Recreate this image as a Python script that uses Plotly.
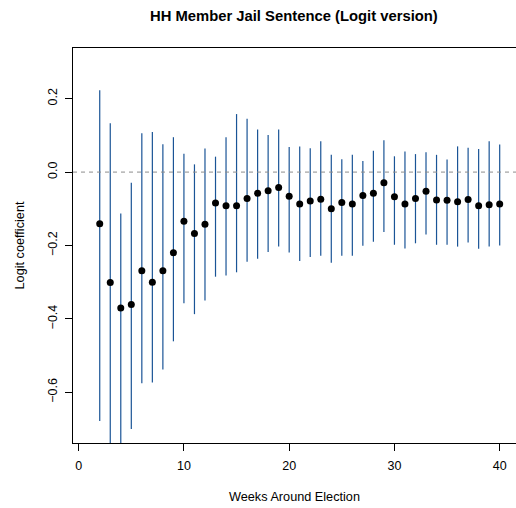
import plotly.graph_objects as go

# Weekly logit coefficients with confidence bounds
weeks = list(range(2, 41))
coef = [-0.141, -0.301, -0.370, -0.361, -0.269, -0.300, -0.269, -0.220, -0.134,
        -0.167, -0.142, -0.084, -0.092, -0.092, -0.072, -0.058, -0.051, -0.042,
        -0.066, -0.087, -0.079, -0.074, -0.100, -0.083, -0.087, -0.064, -0.058,
        -0.029, -0.067, -0.087, -0.072, -0.052, -0.076, -0.077, -0.081, -0.075,
        -0.092, -0.089, -0.087]
upper = [0.223, 0.133, -0.113, -0.029, 0.106, 0.109, 0.076, 0.095, 0.050,
         0.021, 0.064, 0.042, 0.095, 0.158, 0.145, 0.116, 0.101, 0.116,
         0.068, 0.070, 0.065, 0.084, 0.047, 0.035, 0.047, 0.030, 0.058,
         0.087, 0.043, 0.056, 0.049, 0.054, 0.047, 0.034, 0.070, 0.066,
         0.063, 0.084, 0.075]
lower = [-0.678, -0.800, -0.800, -0.700, -0.575, -0.573, -0.538, -0.461, -0.357,
         -0.387, -0.350, -0.285, -0.282, -0.273, -0.244, -0.236, -0.218, -0.203,
         -0.219, -0.242, -0.231, -0.228, -0.247, -0.228, -0.228, -0.201, -0.190,
         -0.163, -0.198, -0.208, -0.194, -0.170, -0.198, -0.198, -0.203, -0.192,
         -0.209, -0.203, -0.200]

x_ticks = [0, 10, 20, 30, 40]
y_ticks = [-0.6, -0.4, -0.2, 0.0, 0.2]

err_plus = [u - c for u, c in zip(upper, coef)]
err_minus = [c - l for c, l in zip(coef, lower)]

FONT = "Liberation Sans, Arial, Helvetica, sans-serif"

fig = go.Figure()
fig.add_trace(go.Scatter(
    x=weeks, y=coef, mode="markers",
    marker=dict(color="black", size=7),
    error_y=dict(type="data", symmetric=False, array=err_plus, arrayminus=err_minus,
                 color="#1a5496", thickness=1.2, width=0),
    showlegend=False,
))

# reference line at zero
fig.add_shape(type="line", xref="paper", x0=0, x1=1, yref="y", y0=0, y1=0,
              line=dict(color="#8c8c8c", width=1, dash="4px,4px"))

fig.update_layout(
    width=516, height=508,
    margin=dict(l=73, r=0, t=48, b=65),
    plot_bgcolor="white", paper_bgcolor="white",
    font=dict(family=FONT, size=12.5, color="black"),
    title=dict(text="<b>HH Member Jail Sentence (Logit version)</b>",
               x=0.5695, xanchor="center", y=0.968, yanchor="middle",
               font=dict(size=14.8, family=FONT)),
)

fig.update_xaxes(
    range=[-0.54, 41.55], tickvals=x_ticks, ticktext=[str(t) for t in x_ticks],
    showgrid=False, zeroline=False,
    showline=True, mirror=True, linecolor="black", linewidth=1,
    ticks="outside", ticklen=7, tickcolor="black", ticklabelstandoff=4,
    title=dict(text="Weeks Around Election", standoff=20, font=dict(size=12.7)),
)
fig.update_yaxes(
    range=[-0.738, 0.338], tickvals=y_ticks, tickformat=".1f",
    tickangle=-90,
    showgrid=False, zeroline=False,
    showline=True, mirror=True, linecolor="black", linewidth=1,
    ticks="outside", ticklen=7, tickcolor="black", ticklabelstandoff=3,
    title=dict(text="Logit coefficient", standoff=18, font=dict(size=12.7)),
)

fig.write_html("out.html")
